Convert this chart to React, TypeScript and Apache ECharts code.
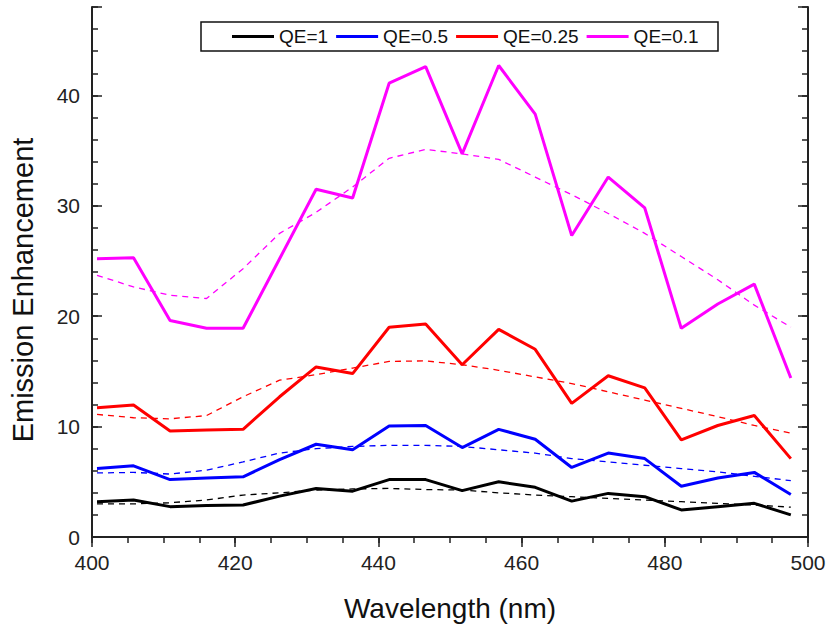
import React, { useEffect, useRef } from "react";
import * as echarts from "echarts";

const wavelengths = [400.7, 405.8, 410.9, 416.0, 421.1, 426.2, 431.3, 436.4, 441.5, 446.6, 451.7, 456.8, 461.9, 467.0, 472.1, 477.2, 482.3, 487.4, 492.5, 497.6];

const qe1 = [3.2, 3.35, 2.75, 2.85, 2.9, 3.7, 4.4, 4.15, 5.2, 5.2, 4.2, 5.0, 4.5, 3.25, 3.95, 3.65, 2.45, 2.75, 3.05, 2.0];
const qe1Fit = [3.0, 3.0, 3.1, 3.35, 3.8, 4.0, 4.25, 4.35, 4.4, 4.3, 4.25, 4.0, 3.8, 3.65, 3.5, 3.35, 3.2, 3.05, 2.9, 2.7];

const qe05 = [6.2, 6.45, 5.2, 5.35, 5.45, 7.0, 8.4, 7.9, 10.05, 10.1, 8.1, 9.75, 8.85, 6.3, 7.6, 7.1, 4.6, 5.35, 5.85, 3.85];
const qe05Fit = [5.8, 5.85, 5.7, 6.05, 6.8, 7.6, 8.0, 8.2, 8.3, 8.3, 8.2, 7.9, 7.6, 7.1, 6.8, 6.5, 6.2, 5.9, 5.5, 5.1];

const qe025 = [11.7, 11.95, 9.6, 9.7, 9.75, 12.7, 15.4, 14.8, 19.0, 19.3, 15.6, 18.8, 17.0, 12.1, 14.6, 13.5, 8.8, 10.1, 11.0, 7.1];
const qe025Fit = [11.1, 10.8, 10.7, 11.0, 12.7, 14.2, 14.7, 15.3, 15.9, 15.95, 15.6, 15.1, 14.5, 13.9, 13.15, 12.4, 11.65, 10.9, 10.1, 9.4];

const qe01 = [25.2, 25.3, 19.6, 18.9, 18.9, 25.2, 31.5, 30.7, 41.1, 42.6, 34.7, 42.7, 38.3, 27.3, 32.6, 29.8, 18.9, 21.1, 22.9, 14.4];
const qe01Fit = [23.7, 22.65, 21.9, 21.6, 24.3, 27.5, 29.4, 31.7, 34.3, 35.1, 34.7, 34.2, 32.6, 31.0, 29.3, 27.5, 25.4, 23.3, 21.0, 19.0];

const seriesNames = ["QE=1", "QE=0.5", "QE=0.25", "QE=0.1"];
const seriesColors = ["#000000", "#0000ff", "#ff0000", "#ff00ff"];
const solidData = [qe1, qe05, qe025, qe01];
const fitData = [qe1Fit, qe05Fit, qe025Fit, qe01Fit];

const FONT = "'Liberation Sans', Arial, sans-serif";
const AX = "#222222";

export default function App() {
  const ref = useRef<HTMLDivElement>(null);
  useEffect(() => {
    if (!ref.current) return;
    const chart = echarts.init(ref.current, null, { renderer: "svg" });
    const pair = (arr: number[]) => wavelengths.map((x, i) => [x, arr[i]]);
    const series: any[] = [];
    fitData.forEach((d, k) => {
      series.push({
        name: seriesNames[k] + " fit",
        type: "line",
        data: pair(d),
        showSymbol: false,
        symbol: "none",
        lineStyle: { color: seriesColors[k], width: 1.3, type: [6, 5] },
        itemStyle: { color: seriesColors[k] },
        z: 2,
      });
    });
    solidData.forEach((d, k) => {
      series.push({
        name: seriesNames[k],
        type: "line",
        data: pair(d),
        showSymbol: false,
        symbol: "none",
        lineStyle: { color: seriesColors[k], width: 3 },
        itemStyle: { color: seriesColors[k] },
        z: 3,
      });
    });

    const yBase = { type: "value", min: 0, max: 48, gridIndex: 0, splitLine: { show: false } };
    const xBase = { type: "value", min: 400, max: 500, gridIndex: 0, splitLine: { show: false } };

    chart.setOption({
      animation: false,
      backgroundColor: "#ffffff",
      textStyle: { fontFamily: FONT },
      grid: { left: 91, top: 7, right: 22, bottom: 90, containLabel: false },
      legend: {
        data: seriesNames,
        left: 232,
        top: 27,
        padding: 0,
        icon: "rect",
        itemWidth: 42,
        itemHeight: 3,
        itemGap: 8,
        z: 10,
        textStyle: { fontFamily: FONT, fontSize: 19, color: "#111" },
      },
      graphic: [
        {
          type: "rect",
          z: 5,
          shape: { x: 201, y: 22, width: 517, height: 29 },
          style: { fill: "#ffffff", stroke: "#111", lineWidth: 1.5 },
        },
      ],
      xAxis: [
        {
          ...xBase,
          position: "bottom",
          interval: 20,
          name: "Wavelength (nm)",
          nameLocation: "middle",
          nameGap: 57,
          nameTextStyle: { fontFamily: FONT, fontSize: 28, color: "#111" },
          axisLine: { show: true, lineStyle: { color: AX, width: 2 } },
          axisTick: { show: true, inside: false, length: 10, lineStyle: { color: AX, width: 1.5 } },
          axisLabel: { show: true, margin: 15, fontFamily: FONT, fontSize: 21, color: "#222" },
        },
        {
          ...xBase,
          position: "bottom",
          interval: 5,
          axisLine: { show: false },
          axisTick: { show: true, inside: false, length: 6, lineStyle: { color: AX, width: 1.5 } },
          axisLabel: { show: false },
        },
        {
          ...xBase,
          position: "top",
          interval: 20,
          axisLine: { show: true, lineStyle: { color: AX, width: 2 } },
          axisTick: { show: false },
          axisLabel: { show: false },
        },
      ],
      yAxis: [
        {
          ...yBase,
          position: "left",
          interval: 10,
          name: "Emission Enhancement",
          nameLocation: "middle",
          nameGap: 55,
          nameTextStyle: { fontFamily: FONT, fontSize: 29, color: "#111", padding: [0, 36, 0, 0] },
          axisLine: { show: true, lineStyle: { color: AX, width: 2 } },
          axisTick: { show: true, inside: true, length: 10, lineStyle: { color: AX, width: 1.5 } },
          axisLabel: {
            show: true,
            margin: 12,
            fontFamily: FONT,
            fontSize: 21,
            color: "#222",
            formatter: (v: number) => (v % 10 === 0 ? String(v) : ""),
          },
        },
        {
          ...yBase,
          position: "left",
          interval: 2,
          axisLine: { show: false },
          axisTick: { show: true, inside: true, length: 6, lineStyle: { color: AX, width: 1.5 } },
          axisLabel: { show: false },
        },
        {
          ...yBase,
          position: "right",
          interval: 10,
          axisLine: { show: true, lineStyle: { color: AX, width: 2 } },
          axisTick: { show: true, inside: true, length: 10, lineStyle: { color: AX, width: 1.5 } },
          axisLabel: { show: false },
        },
        {
          ...yBase,
          position: "right",
          interval: 2,
          axisLine: { show: false },
          axisTick: { show: true, inside: true, length: 6, lineStyle: { color: AX, width: 1.5 } },
          axisLabel: { show: false },
        },
      ],
      series,
    });
    return () => chart.dispose();
  }, []);
  return (
    <div
      ref={ref}
      style={{ position: "fixed", left: 0, top: 0, width: 830, height: 627, background: "#fff" }}
    />
  );
}
